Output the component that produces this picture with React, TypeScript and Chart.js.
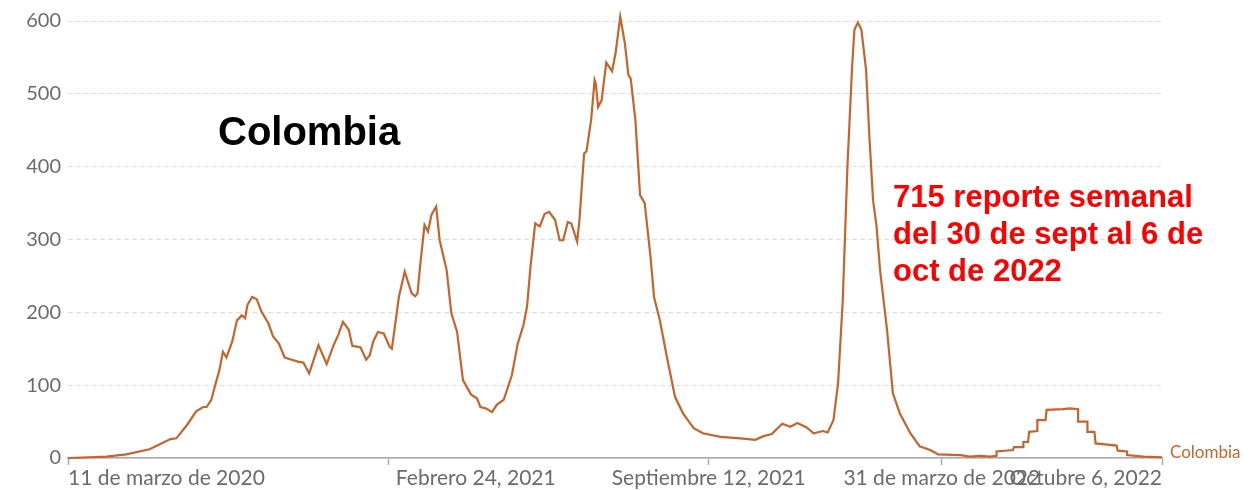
import { useEffect, useRef } from 'react';
import { Chart, registerables } from 'chart.js';

Chart.register(...registerables);

// Day offsets counted from 11 de marzo de 2020 (day 0) to 6 de octubre de 2022 (day 939)
const DAYS = [
  0, 2, 33, 50, 70, 88, 93, 102, 110, 116, 119, 123, 126, 130, 133, 136, 141, 145, 147, 149,
  152, 154, 158, 162, 166, 172, 176, 181, 186, 192, 198, 202, 207, 215, 222, 228, 232, 236, 241, 244,
  251, 256, 259, 262, 266, 271, 276, 278, 284, 289, 295, 298, 300, 302, 306, 309, 312, 316, 319, 325,
  329, 334, 339, 346, 351, 354, 359, 364, 368, 374, 381, 386, 391, 394, 397, 401, 405, 409, 413, 418,
  422, 425, 429, 432, 437, 439, 443, 445, 449, 452, 453, 455, 458, 462, 467, 470, 474, 478, 481, 483,
  487, 491, 495, 500, 503, 508, 514, 521, 528, 537, 545, 560, 577, 590, 597, 604, 613, 620, 626, 634,
  640, 648, 652, 657, 661, 665, 669, 673, 675, 678, 681, 685, 688, 691, 694, 697, 703, 708, 714, 723,
  731, 740, 747, 766, 774, 783, 791, 797, 797, 811, 812, 820, 820, 824, 825, 832, 832, 839, 840, 854,
  860, 867, 867, 875, 875, 881, 882, 900, 901, 909, 909, 923, 939,
];
const CASES = [
  0, 0, 2, 5, 12, 26, 27, 45, 64, 70, 70, 80, 98, 121, 146, 138, 160, 189, 192, 196,
  192, 210, 221, 218, 201, 185, 167, 157, 138, 135, 132, 131, 116, 155, 129, 155, 169, 187, 176, 154,
  152, 135, 141, 160, 173, 171, 153, 150, 221, 256, 226, 222, 226, 260, 320, 311, 334, 345, 299, 258,
  199, 173, 107, 87, 82, 70, 68, 63, 73, 80, 114, 157, 183, 208, 263, 322, 318, 335, 338, 327,
  299, 299, 324, 322, 297, 327, 418, 421, 464, 519, 514, 482, 491, 543, 531, 556, 606, 569, 526, 521,
  464, 361, 350, 276, 221, 189, 139, 84, 61, 41, 34, 29, 27, 25, 30, 33, 47, 43, 48, 42,
  34, 37, 35, 52, 103, 217, 400, 537, 588, 598, 588, 533, 437, 354, 318, 258, 176, 89, 61, 34,
  16, 11, 5, 4, 2, 3, 2, 3, 9, 11, 15, 15, 22, 22, 36, 37, 52, 52, 66, 67,
  68, 67, 50, 50, 36, 36, 20, 17, 10, 9, 4, 2, 1,
];

const X_TICK_DAYS = [0, 275, 350, 550, 750, 939];
const X_TICK_LABELS = [
  '11 de marzo de 2020',
  '',
  'Febrero 24, 2021',
  'Septiembre 12, 2021',
  '31 de marzo de 2022',
  'Octubre 6, 2022',
];
const X_UNMARKED_TICK = 350;
const Y_TICKS = [0, 100, 200, 300, 400, 500, 600];

const SERIES_NAME = 'Colombia';
const TITLE_TEXT = 'Colombia';
const NOTE_LINES = ['715 reporte semanal', 'del 30 de sept al 6 de', 'oct de 2022'];

const LINE_COLOR = '#c6642c';
const AXIS_TEXT = '#6b6b6b';

const textPlugin = {
  id: 'textPlugin',
  afterDraw(chart: any) {
    const ctx = chart.ctx;
    const area = chart.chartArea;
    ctx.save();
    // Title
    ctx.fillStyle = '#000000';
    ctx.font = 'bold 40px "Liberation Sans", Arial, sans-serif';
    ctx.textBaseline = 'alphabetic';
    ctx.textAlign = 'left';
    ctx.fillText(TITLE_TEXT, area.left + 150, area.top + 124);
    // Red note
    ctx.fillStyle = '#ff0000';
    ctx.font = 'bold 31px "Liberation Sans", Arial, sans-serif';
    NOTE_LINES.forEach((line, i) => {
      ctx.fillText(line, area.left + 825, area.top + 186 + i * 37);
    });
    // Series end label
    const meta = chart.getDatasetMeta(0);
    const last = meta.data[meta.data.length - 1];
    ctx.fillStyle = LINE_COLOR;
    ctx.font = '17px Lato, sans-serif';
    ctx.textBaseline = 'middle';
    ctx.fillText(SERIES_NAME, last.x + 8, last.y - 5);
    ctx.restore();
  },
};

export default function App() {
  const ref = useRef<HTMLCanvasElement | null>(null);

  useEffect(() => {
    document.body.style.margin = '0';
    if (!ref.current) return;
    const points = DAYS.map((d, i) => ({ x: d, y: CASES[i] }));
    const chart = new Chart(ref.current, {
      type: 'line',
      data: {
        datasets: [
          {
            label: SERIES_NAME,
            data: points,
            borderColor: LINE_COLOR,
            borderWidth: 2.2,
            pointRadius: 0,
            tension: 0,
            fill: false,
            clip: false,
          },
        ],
      },
      options: {
        animation: false,
        responsive: false,
        layout: { padding: { top: 21, right: 92, left: 0, bottom: 0 } },
        plugins: {
          legend: { display: false },
          tooltip: { enabled: false },
        },
        scales: {
          x: {
            type: 'linear',
            min: 0,
            max: 939,
            afterBuildTicks: (scale: any) => {
              scale.ticks = X_TICK_DAYS.map((v) => ({ value: v }));
            },
            afterFit: (scale: any) => {
              scale.height = 32;
            },
            ticks: {
              autoSkip: false,
              maxRotation: 0,
              minRotation: 0,
              align: 'inner',
              padding: 1,
              color: AXIS_TEXT,
              font: { family: 'Lato', size: 21 },
              callback: (value: any) => {
                const idx = X_TICK_DAYS.indexOf(Number(value));
                return idx >= 0 ? X_TICK_LABELS[idx] : '';
              },
            },
            grid: {
              drawOnChartArea: false,
              drawTicks: true,
              tickLength: 7,
              tickWidth: 1.5,
              tickColor: (ctx: any) =>
                ctx.tick && ctx.tick.value === X_UNMARKED_TICK ? 'rgba(0,0,0,0)' : '#aaaaaa',
            },
            border: { display: true, color: '#aaaaaa', width: 1.5 },
          },
          y: {
            type: 'linear',
            min: 0,
            max: 600,
            afterBuildTicks: (scale: any) => {
              scale.ticks = Y_TICKS.map((v) => ({ value: v }));
            },
            afterFit: (scale: any) => {
              scale.width = 68;
            },
            ticks: {
              padding: 7,
              color: AXIS_TEXT,
              font: { family: 'Lato', size: 20 },
            },
            grid: {
              drawTicks: false,
              color: '#dddddd',
              lineWidth: 1,
            },
            border: { display: false, dash: [5, 3] },
          },
        },
      },
      plugins: [textPlugin],
    });
    return () => chart.destroy();
  }, []);

  return (
    <div style={{ position: 'absolute', left: 0, top: 0, width: 1254, height: 490, background: '#fff' }}>
      <canvas ref={ref} width={1254} height={490} />
    </div>
  );
}
